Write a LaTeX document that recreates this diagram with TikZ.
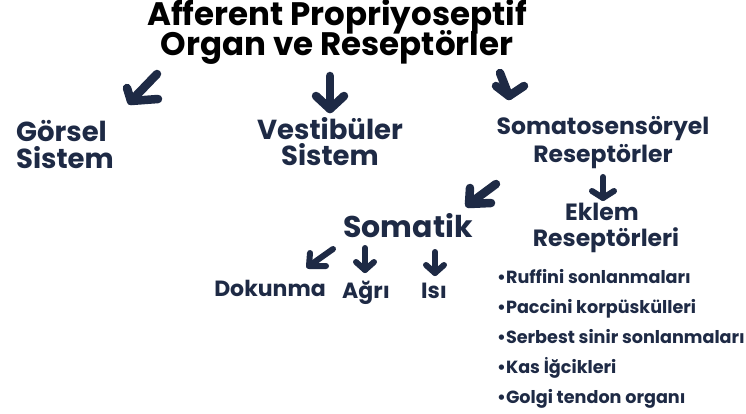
\documentclass[tikz,border=0pt]{standalone}
\usepackage{fontspec}
\setmainfont{Poppins}
\usetikzlibrary{arrows.meta}
\definecolor{navy}{HTML}{1E2A45}
\tikzset{
  ttl/.style={font=\bfseries\fontsize{32.5}{34}\selectfont, text=black, inner sep=0pt},
  big/.style={font=\bfseries\fontsize{27.5}{30}\selectfont, text=navy, inner sep=0pt},
  lvl/.style={font=\bfseries\fontsize{23.5}{26}\selectfont, text=navy, inner sep=0pt},
  sml/.style={font=\bfseries\fontsize{22}{24}\selectfont, text=navy, inner sep=0pt},
  itm/.style={font=\bfseries\fontsize{17.6}{19}\selectfont, text=navy, anchor=base west, inner sep=0pt},
  bigarr/.style={draw=navy, line width=8.5pt, line cap=round, line join=round},
  smlarr/.style={draw=navy, line width=6pt, line cap=round, line join=round},
}
\begin{document}
\begin{tikzpicture}[x=1pt,y=-1pt]
\useasboundingbox[fill=white] (0,0) rectangle (746,414);
% texts
\node[ttl, anchor=base] (title1) at (337,26) {Afferent Propriyoseptif};
\node[ttl, anchor=base] (title2) at (337,56) {Organ ve Reseptörler};
\node[big, anchor=base west] (gorsel1) at (16,142) {Görsel};
\node[big, anchor=base west] (gorsel2) at (16,168) {Sistem};
\node[big, anchor=base] (vest1) at (330,140) {Vestibüler};
\node[big, anchor=base] (vest2) at (330,166) {Sistem};
\node[lvl, anchor=base] (soma1) at (603,135) {Somatosensöryel};
\node[lvl, anchor=base] (soma2) at (603,163) {Reseptörler};
\node[big, font=\bfseries\fontsize{30}{32}\selectfont, anchor=base] (somatik) at (408,237) {Somatik};
\node[lvl, anchor=base] (eklem1) at (602,220) {Eklem};
\node[lvl, anchor=base] (eklem2) at (606,246) {Reseptörleri};
\node[sml, anchor=base] (dok) at (270,296) {Dokunma};
\node[sml, anchor=base] (agri) at (366,298) {Ağrı};
\node[sml, anchor=base] (isi) at (434,298) {Isı};
\node[itm] (i1) at (497,283) {•Ruffini sonlanmaları};
\node[itm] (i2) at (497,313) {•Paccini korpüskülleri};
\node[itm] (i3) at (497,343) {•Serbest sinir sonlanmaları};
\node[itm] (i4) at (497,373) {•Kas İğcikleri};
\node[itm] (i5) at (497,403) {•Golgi tendon organı};
% arrows: shaft start, tip, two arm ends
\coordinate (a1s) at (157,74); \coordinate (a1t) at (131,101);
\coordinate (a1l) at (127,88); \coordinate (a1r) at (158,99);
\draw[bigarr] (a1s) -- (a1t); \draw[bigarr] (a1l) -- (a1t) -- (a1r);
\coordinate (a2s) at (330,76); \coordinate (a2t) at (330,109);
\coordinate (a2l) at (316,96); \coordinate (a2r) at (344,96);
\draw[bigarr] (a2s) -- (a2t); \draw[bigarr] (a2l) -- (a2t) -- (a2r);
\coordinate (a3s) at (500,73); \coordinate (a3t) at (509,96);
\coordinate (a3l) at (496,86); \coordinate (a3r) at (524,86);
\draw[bigarr] (a3s) -- (a3t); \draw[bigarr] (a3l) -- (a3t) -- (a3r);
\coordinate (a4s) at (496,184); \coordinate (a4t) at (469,204);
\coordinate (a4l) at (470,188); \coordinate (a4r) at (491,203);
\draw[bigarr] (a4s) -- (a4t); \draw[bigarr] (a4l) -- (a4t) -- (a4r);
\coordinate (a5s) at (603,177); \coordinate (a5t) at (603,198);
\coordinate (a5l) at (592,191); \coordinate (a5r) at (614,191);
\draw[smlarr] (a5s) -- (a5t); \draw[smlarr] (a5l) -- (a5t) -- (a5r);
\coordinate (a6s) at (333,249); \coordinate (a6t) at (309,266);
\coordinate (a6l) at (310,253); \coordinate (a6r) at (326,266);
\draw[smlarr] (a6s) -- (a6t); \draw[smlarr] (a6l) -- (a6t) -- (a6r);
\coordinate (a7s) at (365,248); \coordinate (a7t) at (365,270);
\coordinate (a7l) at (356,262); \coordinate (a7r) at (374,262);
\draw[smlarr] (a7s) -- (a7t); \draw[smlarr] (a7l) -- (a7t) -- (a7r);
\coordinate (a8s) at (435,252); \coordinate (a8t) at (435,273);
\coordinate (a8l) at (426,265); \coordinate (a8r) at (444,265);
\draw[smlarr] (a8s) -- (a8t); \draw[smlarr] (a8l) -- (a8t) -- (a8r);
\end{tikzpicture}
\end{document}
